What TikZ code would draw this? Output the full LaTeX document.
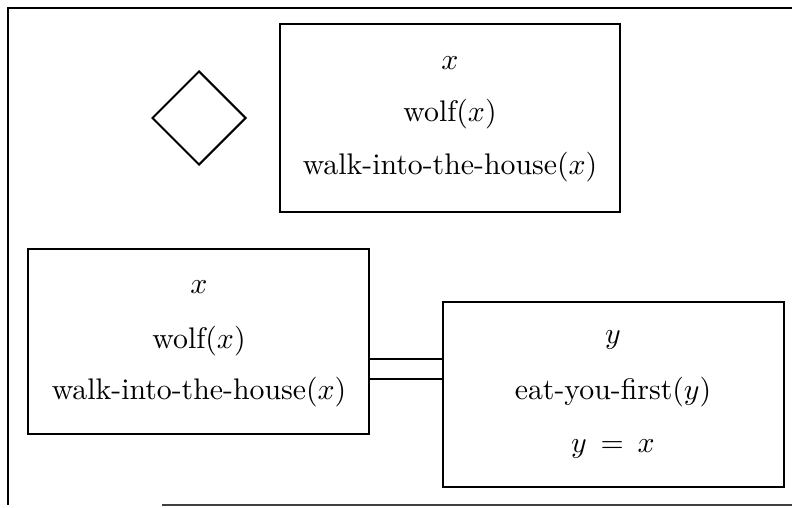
\documentclass[tikz,border=0pt]{standalone}
\usepackage{fontspec}
\setmainfont{lmroman10-regular.otf}
\DeclareFontShape{OML}{cmm}{m}{it}{<-> cmmi10}{}
\DeclareFontFamily{OT1}{cmr}{\hyphenchar\font45 }
\DeclareFontShape{OT1}{cmr}{m}{n}{<-> cmr10}{}
\usetikzlibrary{shapes.geometric}
\begin{document}
\begin{tikzpicture}[x=1pt,y=-1pt,line width=2pt,
  drsbox/.style={draw,rectangle,inner sep=0pt},
  drstext/.style={anchor=base,inner sep=0pt,font=\fontsize{29.8}{36}\selectfont},
  frame/.style={line width=2.4pt}]
\useasboundingbox (0,0) rectangle (792,508);
% outer frame
\coordinate (fTL) at (8,8);
\coordinate (fTR) at (792,8);
\coordinate (fBL) at (8,505);
\coordinate (fBS) at (162,505);
\coordinate (fBR) at (792,505);
\draw[frame] (fTR) -- (fTL) -- (fBL);
\draw[frame,black!75] (fBS) -- (fBR);
% diamond
\node[draw,diamond,minimum width=94pt,minimum height=94pt,inner sep=0pt] (dia) at (199,118) {};
% top box
\node[drsbox,minimum width=340pt,minimum height=188pt] (top) at (450,118) {};
\node[drstext] (t1) at (450,70) {$x$};
\node[drstext] (t2) at (450,122) {wolf($x$)};
\node[drstext] (t3) at (450,174) {walk-into-the-house($x$)};
% bottom left box
\node[drsbox,minimum width=341pt,minimum height=185pt] (L) at (198.5,341) {};
\node[drstext] (l1) at (199,293) {$x$};
\node[drstext] (l2) at (199,348) {wolf($x$)};
\node[drstext] (l3) at (199,399) {walk-into-the-house($x$)};
% bottom right box
\node[drsbox,minimum width=341pt,minimum height=185pt] (R) at (613.5,394) {};
\node[drstext] (r1) at (613,343) {$y$};
\node[drstext] (r2) at (613,399) {eat-you-first($y$)};
\node[drstext] (r3) at (613,452) {$y\;=\;x$};
% double connector
\coordinate (c1) at (0,359);
\coordinate (c2) at (0,379);
\draw (L.east |- c1) -- (R.west |- c1);
\draw (L.east |- c2) -- (R.west |- c2);
\end{tikzpicture}
\end{document}
